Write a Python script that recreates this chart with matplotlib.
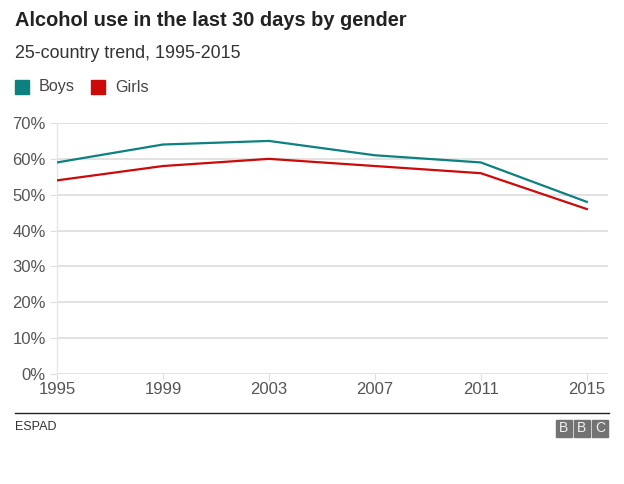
import matplotlib.pyplot as plt
from matplotlib.patches import Rectangle
from matplotlib.lines import Line2D

plt.rcParams['font.family'] = ['Liberation Sans', 'DejaVu Sans']

years = [1995, 1999, 2003, 2007, 2011, 2015]
boys = [59, 64, 65, 61, 59, 48]
girls = [54, 58, 60, 58, 56, 46]
yticks = [0, 10, 20, 30, 40, 50, 60, 70]

teal = '#0d8080'
red = '#cc0a0a'

fig = plt.figure(figsize=(6.24, 4.84), dpi=100)
ax = fig.add_axes([57 / 624, 1 - 374 / 484, (608 - 57) / 624, (374 - 123) / 484])

ax.plot(years, boys, color=teal, lw=1.6, solid_joinstyle='miter', zorder=3)
ax.plot(years, girls, color=red, lw=1.6, solid_joinstyle='miter', zorder=3)

ax.set_xlim(1995, 2015.8)
ax.set_ylim(0, 70)
ax.set_yticks(yticks)
ax.set_yticklabels([f'{v}%' for v in yticks])
ax.set_xticks(years)
ax.set_xticklabels([str(y) for y in years])
ax.yaxis.grid(True, color='#dddddd', lw=1.2, zorder=0)
ax.set_axisbelow(True)
for s in ['top', 'right', 'bottom']:
    ax.spines[s].set_visible(False)
ax.spines['left'].set_color('#e6e6e6')
ax.spines['left'].set_linewidth(1)
ax.tick_params(axis='y', length=5, width=0.8, color='#dddddd', pad=3,
               labelsize=12, labelcolor='#555555')
ax.tick_params(axis='x', length=4, width=0.8, color='#dddddd', direction='out',
               pad=2, labelsize=12, labelcolor='#555555')

fig.text(15 / 624, 1 - 20 / 484, 'Alcohol use in the last 30 days by gender',
         fontsize=14.4, fontweight='bold', color='#222222', va='center')
fig.text(15 / 624, 1 - 53 / 484, '25-country trend, 1995-2015',
         fontsize=12.9, color='#333333', va='center')

# legend
fig.patches.append(Rectangle((15 / 624, 1 - 94 / 484), 14 / 624, 14 / 484,
                             transform=fig.transFigure, color=teal))
fig.text(39 / 624, 1 - 87 / 484, 'Boys', fontsize=11.6, color='#444444', va='center')
fig.patches.append(Rectangle((91 / 624, 1 - 94 / 484), 14 / 624, 14 / 484,
                             transform=fig.transFigure, color=red))
fig.text(115 / 624, 1 - 87 / 484, 'Girls', fontsize=11.6, color='#444444', va='center')

# footer
fig.lines.append(Line2D([15 / 624, 609 / 624], [1 - 413 / 484, 1 - 413 / 484],
                        transform=fig.transFigure, color='#222222', lw=1))
fig.text(15 / 624, 1 - 427 / 484, 'ESPAD', fontsize=9, color='#333333', va='center')
for i, letter in enumerate('BBC'):
    x0 = 556 + i * 18
    fig.patches.append(Rectangle((x0 / 624, 1 - 437 / 484), 16 / 624, 17 / 484,
                                 transform=fig.transFigure, color='#737373'))
    fig.text((x0 + 8) / 624, 1 - 428.5 / 484, letter, fontsize=10, color='#f0f0f0',
             ha='center', va='center')

fig.savefig('out.png', dpi=100, facecolor='white')
